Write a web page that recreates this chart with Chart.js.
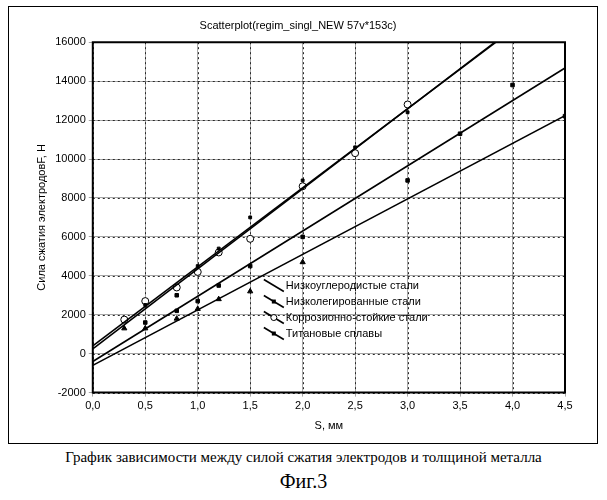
<!DOCTYPE html>
<html><head><meta charset="utf-8">
<script src="https://cdn.jsdelivr.net/npm/chart.js@4"></script>
<style>
body{margin:0;background:#fff;font-family:"Liberation Sans",Arial,sans-serif}
#box{position:absolute;left:8px;top:6px;width:588px;height:436px;border:1px solid #000}
#cap{position:absolute;left:0;width:607px;top:449px;text-align:center;font-family:"Liberation Serif",serif;font-size:15px}
#fig{position:absolute;left:0;width:607px;top:470px;text-align:center;font-family:"Liberation Serif",serif;font-size:20px}
</style></head><body>
<div id="box"><canvas id="c" width="588" height="430"></canvas></div>
<div id="cap">График зависимости между силой сжатия электродов и толщиной металла</div>
<div id="fig">Фиг.3</div>
<script>
const seriesNames = ['Низкоуглеродистые стали', 'Низколегированные стали', 'Коррозионно-стойкие стали', 'Титановые сплавы'];
const lowCarbonS = [0.5, 1.0, 1.2, 1.5, 2.0, 2.5, 3.0];
const lowCarbonF = [2500, 4500, 5400, 7000, 8900, 10600, 12400];
const lowAlloyS = [0.5, 0.8, 0.8, 1.0, 1.2, 1.5, 2.0, 3.0, 3.5, 4.0, 4.5];
const lowAlloyF = [1600, 3000, 2200, 2700, 3500, 4500, 6000, 8900, 11300, 13800, 12200];
const corrosionS = [0.3, 0.5, 0.8, 1.0, 1.2, 1.5, 2.0, 2.5, 3.0];
const corrosionF = [1750, 2700, 3400, 4200, 5200, 5900, 8600, 10300, 12800];
const titanS = [0.3, 0.5, 0.8, 1.0, 1.2, 1.5, 2.0];
const titanF = [1300, 1300, 1800, 2300, 2800, 3200, 4700];
// regression lines: [intercept, slope]
const fits = [[400, 4060], [-400, 3350], [250, 4110], [-600, 2850]];
const xTicks = [0, 0.5, 1, 1.5, 2, 2.5, 3, 3.5, 4, 4.5];
const yTicks = [-2000, 0, 2000, 4000, 6000, 8000, 10000, 12000, 14000, 16000];

const pts = (xs, ys) => xs.map((x, i) => ({x, y: ys[i]}));
const line = f => { const xe = Math.min(4.5, (16000 - f[0]) / f[1]); return [{x: 0, y: f[0]}, {x: xe, y: f[0] + xe * f[1]}]; };
const scat = (data, style, fill, r) => ({data, pointStyle: style, pointRadius: r,
  pointBackgroundColor: fill, pointBorderColor: '#000', pointBorderWidth: 1, showLine: false});
const ln = f => ({showLine: true, data: line(f), borderColor: '#000', borderWidth: 1.6, pointRadius: 0});

const overlay = {
  id: 'overlay',
  beforeDatasetsDraw(ch) {
    const c = ch.ctx, xs = ch.scales.x, ys = ch.scales.y;
    const L = xs.getPixelForValue(0), R = xs.getPixelForValue(4.5);
    const T = ys.getPixelForValue(16000), B = ys.getPixelForValue(-2000);
    c.save();
    c.strokeStyle = 'rgb(40,40,40)'; c.lineWidth = 1; c.setLineDash([2, 3]);
    xTicks.forEach(v => { const p = Math.round(xs.getPixelForValue(v)) + 0.5;
      c.beginPath(); c.moveTo(p, T); c.lineTo(p, B); c.stroke(); });
    yTicks.forEach(v => { const p = Math.round(ys.getPixelForValue(v)) + 0.5;
      c.beginPath(); c.moveTo(L, p); c.lineTo(R, p); c.stroke(); });
    c.setLineDash([]); c.lineWidth = 2; c.strokeStyle = '#000';
    c.beginPath(); c.rect(L, T, R - L, B - T); c.stroke();
    c.restore();
  },
  afterDraw(ch) {
    const c = ch.ctx, xs = ch.scales.x, ys = ch.scales.y;
    const x0 = xs.getPixelForValue(1.63), y0 = ys.getPixelForValue(3500);
    const marks = ['dot', 'sq', 'circ', 'sq'];
    c.save();
    c.font = '11px "Liberation Sans", Arial'; c.fillStyle = '#000'; c.strokeStyle = '#000';
    seriesNames.forEach((n, i) => {
      const y = y0 + i * 16;
      c.lineWidth = 1.6; c.beginPath(); c.moveTo(x0, y - 6); c.lineTo(x0 + 20, y + 6); c.stroke();
      c.lineWidth = 1;
      if (marks[i] === 'sq') c.fillRect(x0 + 8, y - 2, 4, 4);
      if (marks[i] === 'circ') { c.fillStyle = '#fff'; c.beginPath(); c.arc(x0 + 10, y, 3, 0, 7); c.fill(); c.stroke(); c.fillStyle = '#000'; }
      c.textBaseline = 'middle'; c.fillText(n, x0 + 22, y);
    });
    c.restore();
  }
};

new Chart(document.getElementById('c'), {
  type: 'scatter',
  data: {datasets: [
    ln(fits[0]), ln(fits[1]), ln(fits[2]), ln(fits[3]),
    scat(pts(lowCarbonS, lowCarbonF), 'rect', '#000', 2),
    scat(pts(lowAlloyS, lowAlloyF), 'rect', '#000', 2.5),
    scat(pts(corrosionS, corrosionF), 'circle', '#fff', 3.5),
    scat(pts(titanS, titanF), 'triangle', '#000', 3)
  ]},
  options: {
    responsive: false, animation: false,
    layout: {padding: {left: 22, right: 32, top: 10, bottom: 0}},
    plugins: {legend: {display: false}, tooltip: {enabled: false},
      title: {display: true, text: 'Scatterplot(regim_singl_NEW 57v*153c)', color: '#000', font: {size: 11, weight: 'normal'}, padding: {top: 2, bottom: 10}}},
    scales: {
      x: {type: 'linear', min: 0, max: 4.5, afterBuildTicks: a => { a.ticks = xTicks.map(v => ({value: v})); },
        ticks: {color: '#000', font: {size: 11}, callback: v => v.toFixed(1).replace('.', ',')},
        grid: {color: 'rgba(0,0,0,0.35)', tickLength: 4},
        title: {display: true, text: 'S, мм', color: '#000', font: {size: 11}}},
      y: {min: -2000, max: 16000, afterBuildTicks: a => { a.ticks = yTicks.map(v => ({value: v})); },
        ticks: {color: '#000', font: {size: 11}, callback: v => String(v)},
        grid: {color: 'rgba(0,0,0,0.35)', tickLength: 4},
        title: {display: true, text: 'Сила сжатия электродовF, Н', color: '#000', font: {size: 11}}}
    }
  },
  plugins: [overlay]
});
</script>
</body></html>
